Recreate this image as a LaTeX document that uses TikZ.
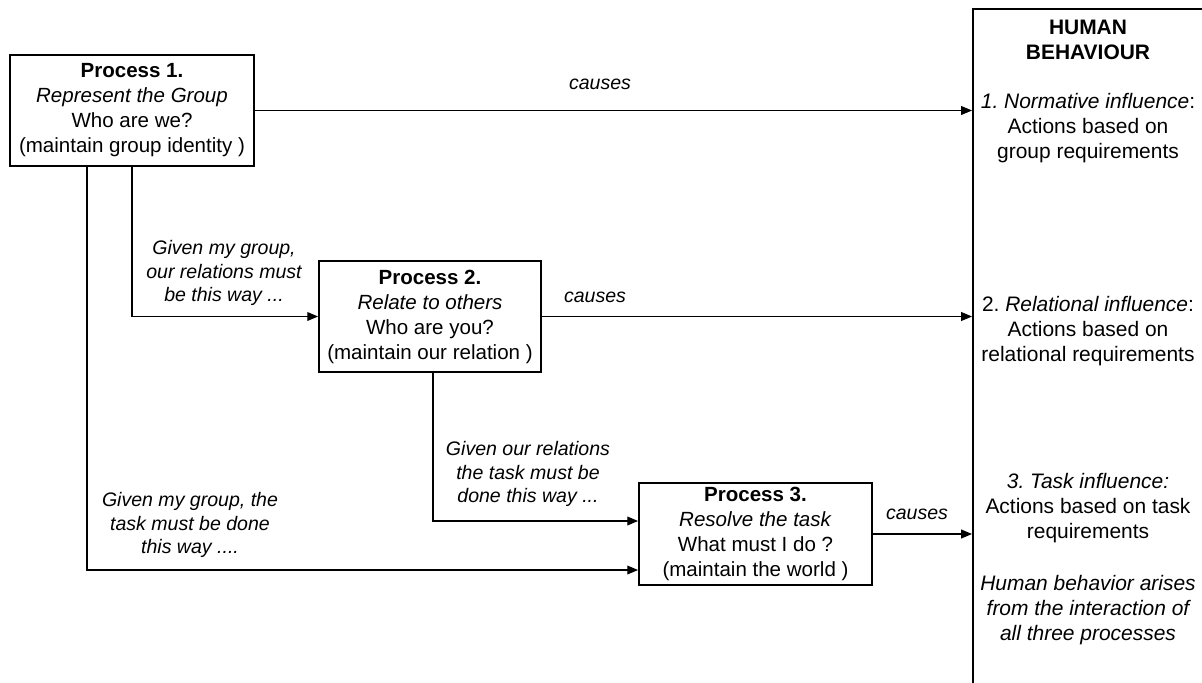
\documentclass[tikz,border=0pt]{standalone}
\usepackage{fontspec}
\setmainfont{Liberation Sans}
\usetikzlibrary{arrows.meta,positioning}
\frenchspacing

\begin{document}
\begin{tikzpicture}[x=0.025cm, y=-0.025cm,
  procbox/.style={draw, line width=1.3pt, align=center, inner sep=0pt, font=\fontsize{14.6}{17.8}\selectfont},
  hbbox/.style={draw, line width=1.3pt, anchor=north west, minimum width=5.9cm, minimum height=17.5cm},
  conn/.style={line width=0.85pt, -{Triangle[length=0.27cm, width=0.22cm]}},
  lbl/.style={align=center, font=\itshape\fontsize{13.9}{16.4}\selectfont},
  hbtext/.style={align=center, font=\fontsize{14.9}{17.8}\selectfont}]
  \useasboundingbox (0,0) rectangle (1202,683);
  \clip (0,0) rectangle (1202,683);

  %% Process boxes
  \node[procbox, minimum width=6.1cm, minimum height=2.775cm] (p1) at (132,110.5)
    {\textbf{Process 1.}\\\textit{Represent the Group}\\Who are we?\\(maintain group identity )};
  \node[procbox, minimum width=5.55cm, minimum height=2.775cm] (p2) at (430,316.5)
    {\textbf{Process 2.}\\\textit{Relate to others}\\Who are you?\\(maintain our relation )};
  \node[procbox, minimum width=5.825cm, minimum height=2.55cm] (p3) at (755.5,534)
    {\textbf{Process 3.}\\\textit{Resolve the task}\\What must I do ?\\(maintain the world )};

  %% Human behaviour box
  \node[hbbox] (hb) at (972,8) {};
  \node[hbtext, font=\bfseries\fontsize{14.9}{17.8}\selectfont] (hbtitle) at (1088,39.5) {HUMAN\\BEHAVIOUR};
  \node[hbtext] (inf1) at (1088,128.5) {\textit{1. Normative influence}:\\Actions based on\\group requirements};
  \node[hbtext] (inf2) at (1088,331.5) {2. \textit{Relational influence}:\\Actions based on\\relational requirements};
  \node[hbtext] (inf3) at (1088,508) {\textit{3. Task influence:}\\Actions based on task\\requirements};
  \node[hbtext, font=\itshape\fontsize{14.9}{17.8}\selectfont] (arise) at (1088,610)
    {Human behavior arises\\from the interaction of\\all three processes};

  %% Causes arrows
  \draw[conn] (p1.east) -- (p1.east -| hb.west);
  \draw[conn] (p2.east) -- (p2.east -| hb.west);
  \draw[conn] (p3.east) -- (p3.east -| hb.west);
  \node[lbl] (c1) at (600,84) {causes};
  \node[lbl] (c2) at (595,297) {causes};
  \node[lbl] (c3) at (917,514) {causes};

  %% Links between processes
  \coordinate (d1) at (87,0);
  \coordinate (d2) at (132,0);
  \coordinate (d3) at (433,0);
  \draw[conn] (p1.south -| d2) |- (p2.west);
  \draw[conn] (p2.south -| d3) |- ([yshift=0.325cm]p3.west);
  \draw[conn] (p1.south -| d1) |- ([yshift=-0.9cm]p3.west);
  \node[lbl] (g1) at (224,273) {Given my group,\\our relations must\\be this way ...};
  \node[lbl] (g2) at (528,474) {Given our relations\\the task must be\\done this way ...};
  \node[lbl] (g3) at (190,525) {Given my group, the\\task must be done\\this way ....};
\end{tikzpicture}
\end{document}
